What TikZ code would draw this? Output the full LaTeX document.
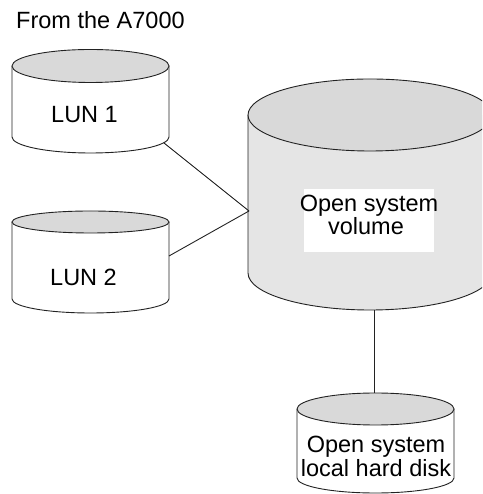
\documentclass[tikz,border=0pt]{standalone}
\usepackage{fontspec}
\setmainfont{Liberation Sans}
\definecolor{capgray}{HTML}{D9D9D9}
\definecolor{bodygray}{HTML}{E5E5E5}
\definecolor{inkline}{HTML}{222222}
\tikzset{
  edge/.style={draw=inkline, line width=0.9pt},
  label/.style={inner sep=0pt, font=\fontsize{23.5}{24}\selectfont, align=center},
}
% cylinder: #1 centre x, #2 half width, #3 top centre y, #4 top radius y,
% #5 bottom centre y, #6 bottom radius y, #7 body colour
\newcommand{\diskdrum}[7]{%
  \path[fill=#7, edge] (#1-#2,#3) -- (#1-#2,#5)
    arc[start angle=180, end angle=360, x radius=#2, y radius=#6]
    -- (#1+#2,#3);
  \path[fill=capgray, edge] (#1,#3) ellipse[x radius=#2, y radius=#4];
}
\begin{document}
\begin{tikzpicture}[x=1pt, y=1pt]
  \useasboundingbox (0,0) rectangle (482,494);
  \begin{scope}
    \clip (0,0) rectangle (482,494);
    \diskdrum{90.5}{78.5}{428}{16.5}{357}{16}{white}
    \diskdrum{90.5}{78.5}{272}{11}{195}{14}{white}
    \diskdrum{370}{122}{379}{36}{221}{37}{bodygray}
    \diskdrum{375.5}{78.5}{85}{16}{16}{15}{white}
  \end{scope}

  % connection points on the drums
  \coordinate (lun1out) at (164,351);
  \coordinate (lun2out) at (169,238);
  \coordinate (volin) at (249,283);
  \coordinate (volout) at (374,184);
  \coordinate (localin) at (374,101);

  \node[label, anchor=base west] (title) at (16,465) {From the A7000};
  \node[label, anchor=base] (lun1) at (84.5,371) {LUN 1};
  \node[label, anchor=base] (lun2) at (83.5,208) {LUN 2};
  \fill[white] (304,242) rectangle (434,305);
  \node[label, anchor=base] (vol) at (369,282) {Open system};
  \node[label, anchor=base] (vol2) at (366,259) {volume};
  \node[label, anchor=base] (loc) at (376,41) {Open system};
  \node[label, anchor=base] (loc2) at (376,17) {local hard disk};

  \draw[edge] (lun1out) -- (volin);
  \draw[edge] (lun2out) -- (volin);
  \draw[edge] (volout) -- (localin);
\end{tikzpicture}
\end{document}
